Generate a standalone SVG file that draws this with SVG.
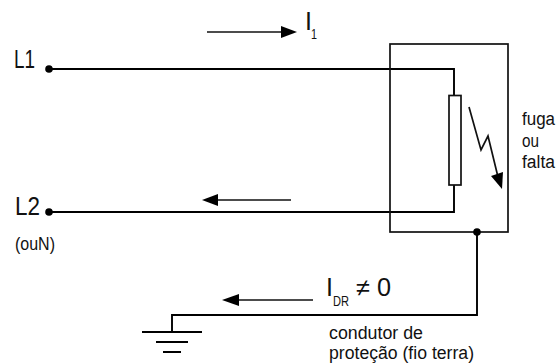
<svg xmlns="http://www.w3.org/2000/svg" width="558" height="363" viewBox="0 0 558 363">
<style>
.w{fill:none;stroke:#000;stroke-width:1.9}
.b{fill:none;stroke:#111;stroke-width:1.7}
.a{fill:#000;stroke:none}
text{font-family:"Liberation Sans",Arial,sans-serif;fill:#111}
.big{font-size:25px}
.sm{font-size:18px}
.sub{font-size:15px}
</style>
<rect width="558" height="363" fill="#fff"/>
<g id="connectors">
<path class="w" d="M49 69H454V95.5M454 185V212H49"/>
<path class="w" d="M477 232V315H172V332"/>
<path class="w" d="M142 332H202M156 342H188M163 352H181"/>
<path class="b" d="M207 32H285"/><path class="a" d="M297 32L281 26V38Z"/>
<path class="b" d="M291 200H212"/><path class="a" d="M202 200L218 194V206Z"/>
<path class="b" d="M313 300H234"/><path class="a" d="M222 300L239 294V306Z"/>
<path class="b" d="M469 107L481 150L488 136L498 177"/><path class="a" d="M502 189L491 176L503 172Z"/>
</g>
<g id="box"><rect class="b" x="390" y="44" width="118" height="188"/></g>
<g id="resistor"><rect class="b" x="449" y="95.5" width="12" height="89.5" fill="#fff"/></g>
<g id="L1"><circle cx="49" cy="69" r="3.8"/><text class="big" x="14" y="68" textLength="21" lengthAdjust="spacingAndGlyphs">L1</text></g>
<g id="L2"><circle cx="49" cy="212" r="3.8"/><text class="big" x="15" y="215" textLength="25" lengthAdjust="spacingAndGlyphs">L2</text>
<text class="sm" x="15" y="250" textLength="40" lengthAdjust="spacingAndGlyphs">(ouN)</text></g>
<g id="I1"><text class="big" x="305" y="30">I</text><text class="sub" x="311" y="39" textLength="6" lengthAdjust="spacingAndGlyphs">1</text></g>
<g id="IDR"><text class="big" x="326" y="296">I</text><text class="sub" x="333" y="306" textLength="16" lengthAdjust="spacingAndGlyphs">DR</text><text class="big" x="356" y="296" textLength="35" lengthAdjust="spacingAndGlyphs">≠ 0</text></g>
<g id="fuga"><text class="sm" x="522" y="125" textLength="33" lengthAdjust="spacingAndGlyphs">fuga</text><text class="sm" x="522" y="147" textLength="17" lengthAdjust="spacingAndGlyphs">ou</text><text class="sm" x="522" y="168" textLength="33" lengthAdjust="spacingAndGlyphs">falta</text></g>
<g id="condutor"><text class="sm" x="329" y="339" textLength="94" lengthAdjust="spacingAndGlyphs">condutor de</text><text class="sm" x="329" y="359" textLength="145" lengthAdjust="spacingAndGlyphs">proteção (fio terra)</text></g>
<g id="junction"><circle cx="477" cy="232" r="3.8"/></g>
</svg>
